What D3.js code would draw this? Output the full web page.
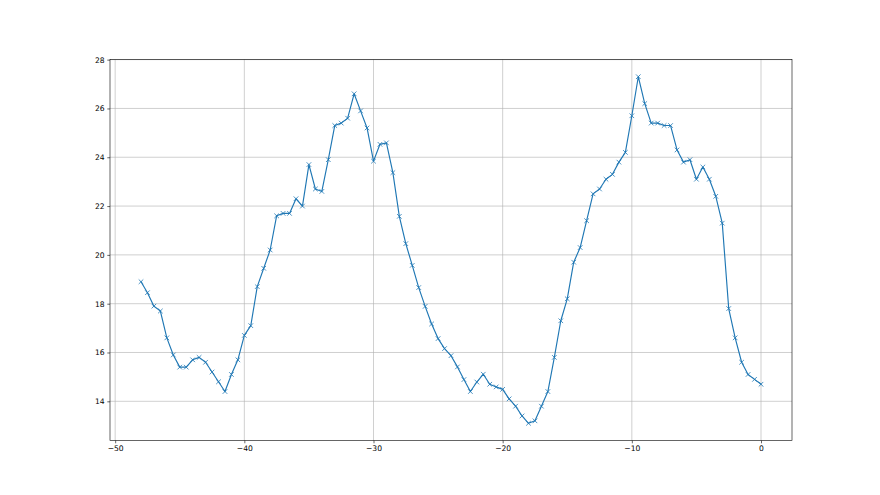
<!DOCTYPE html>
<html><head><meta charset="utf-8">
<script src="https://cdn.jsdelivr.net/npm/d3@7"></script>
<style>body{margin:0;background:#fff}svg{display:block}text{font-family:"DejaVu Sans",sans-serif}</style>
</head><body>
<script>
const xStart = -48, xStep = 0.5;
const values = [18.9,18.45,17.9,17.7,16.6,15.9,15.4,15.4,15.7,15.8,15.6,15.2,14.8,14.4,15.1,15.7,16.7,17.1,18.7,19.45,20.2,21.6,21.7,21.7,22.3,22.0,23.7,22.7,22.6,23.9,25.3,25.4,25.6,26.6,25.9,25.2,23.84,24.53,24.59,23.37,21.58,20.46,19.57,18.66,17.89,17.17,16.57,16.16,15.87,15.41,14.89,14.4,14.79,15.11,14.7,14.59,14.49,14.1,13.8,13.4,13.1,13.2,13.8,14.4,15.8,17.3,18.2,19.7,20.3,21.4,22.5,22.7,23.1,23.3,23.8,24.2,25.7,27.3,26.2,25.4,25.4,25.3,25.3,24.3,23.8,23.9,23.1,23.6,23.1,22.4,21.3,17.8,16.6,15.6,15.1,14.9,14.7];
const xTicks = [-50,-40,-30,-20,-10,0];
const yTicks = [14,16,18,20,22,24,26,28];

const W = 880, H = 495;
const m = {left:110, right:792, top:59.4, bottom:440.6};
const data = values.map((v,i)=>({x:xStart+i*xStep, y:v}));
const xe = d3.extent(data,d=>d.x), ye = d3.extent(data,d=>d.y);
const xm = (xe[1]-xe[0])*0.05, ym = (ye[1]-ye[0])*0.05;
const x = d3.scaleLinear().domain([xe[0]-xm, xe[1]+xm]).range([m.left, m.right]);
const y = d3.scaleLinear().domain([ye[0]-ym, ye[1]+ym]).range([m.bottom, m.top]);

const svg = d3.select("body").append("svg").attr("width",W).attr("height",H);
const fmt = d => (d<0 ? "\u2212"+Math.abs(d) : String(d));

// grid
const g = svg.append("g");
g.selectAll(".gx").data(xTicks).join("line").attr("x1",d=>x(d)).attr("x2",d=>x(d)).attr("y1",m.top).attr("y2",m.bottom).attr("stroke","#b0b0b0").attr("stroke-width",0.6);
g.selectAll(".gy").data(yTicks).join("line").attr("y1",d=>y(d)).attr("y2",d=>y(d)).attr("x1",m.left).attr("x2",m.right).attr("stroke","#b0b0b0").attr("stroke-width",0.6);

// line
svg.append("path").datum(data).attr("fill","none").attr("stroke","#1f77b4").attr("stroke-width",1.15)
  .attr("stroke-linejoin","round").attr("stroke-linecap","square")
  .attr("d", d3.line().x(d=>x(d.x)).y(d=>y(d.y)));
// markers
const s = 2.3;
svg.append("g").selectAll("path").data(data).join("path")
  .attr("d", d=>`M${x(d.x)-s},${y(d.y)-s}L${x(d.x)+s},${y(d.y)+s}M${x(d.x)-s},${y(d.y)+s}L${x(d.x)+s},${y(d.y)-s}`)
  .attr("stroke","#1f77b4").attr("stroke-width",0.8).attr("fill","none");

// axes
const xa = svg.append("g").attr("transform",`translate(0,${m.bottom})`)
  .call(d3.axisBottom(x).tickValues(xTicks).tickFormat(fmt).tickSize(2.7).tickPadding(2.7));
const ya = svg.append("g").attr("transform",`translate(${m.left},0)`)
  .call(d3.axisLeft(y).tickValues(yTicks).tickFormat(fmt).tickSize(2.7).tickPadding(2.7));
[xa,ya].forEach(a=>{a.select(".domain").remove(); a.selectAll("line").attr("stroke","#000").attr("stroke-width",0.6); a.selectAll("text").attr("font-size","7.6px").attr("fill","#000").attr("font-family","DejaVu Sans");});

// spines
svg.append("rect").attr("x",m.left).attr("y",m.top).attr("width",m.right-m.left).attr("height",m.bottom-m.top)
  .attr("fill","none").attr("stroke","#000").attr("stroke-width",0.6);
</script>
</body></html>
